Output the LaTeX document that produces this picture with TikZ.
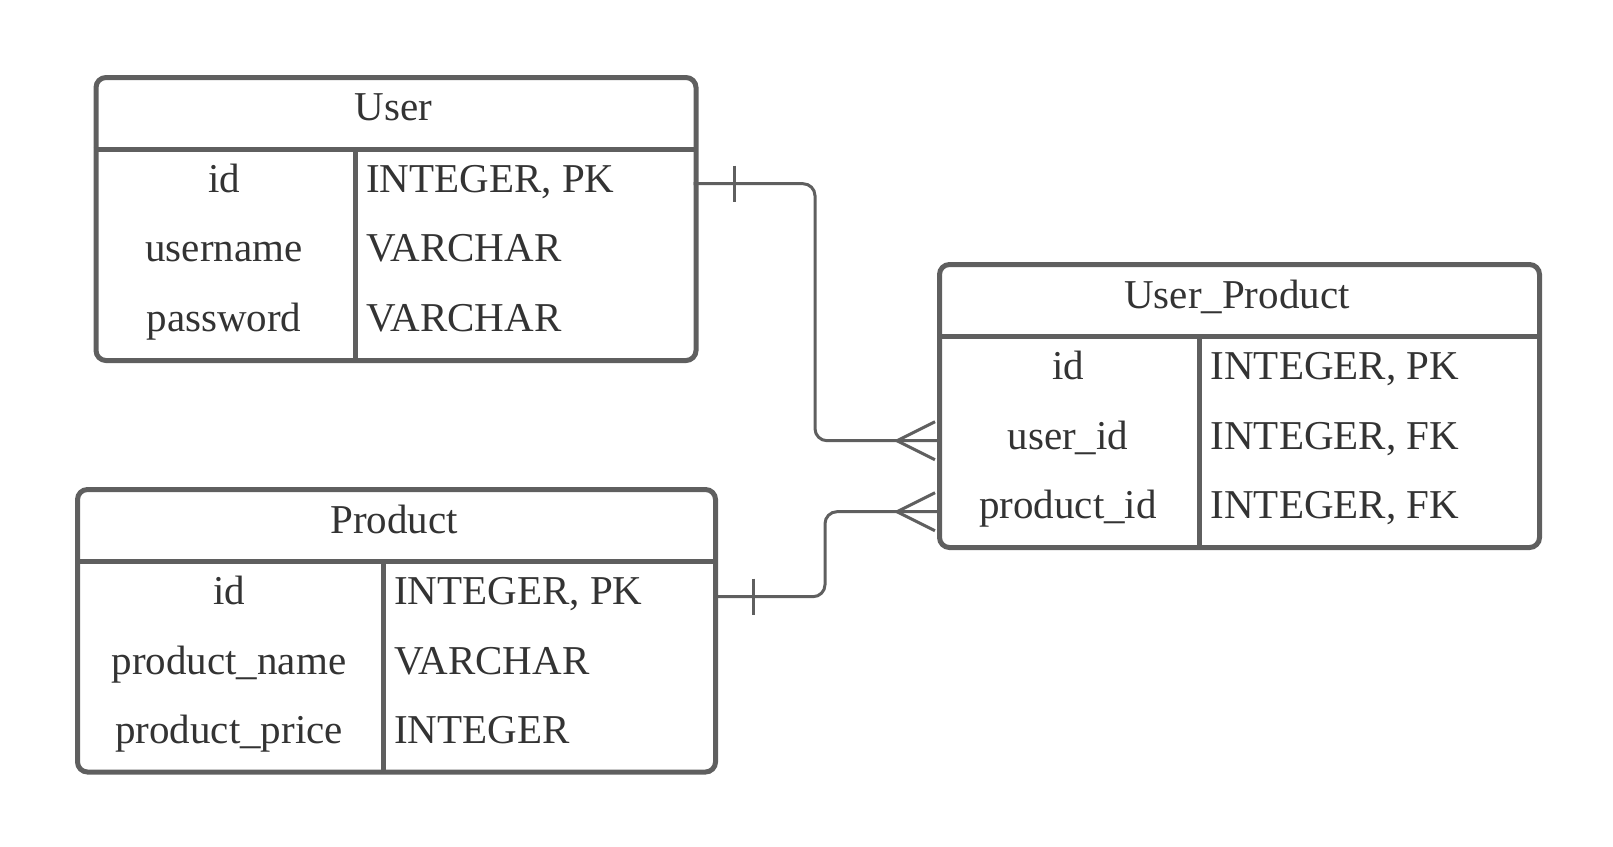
\documentclass[tikz,border=0pt]{standalone}
\usepackage{fontspec}
\setmainfont{Liberation Serif}
\definecolor{ln}{RGB}{95,95,95}
\definecolor{tx}{RGB}{51,51,51}
\tikzset{
  tbl/.style={draw=ln,line width=5pt,rounded corners=10pt,inner sep=0pt},
  sep/.style={draw=ln,line width=5pt},
  conn/.style={draw=ln,line width=3pt,rounded corners=12pt},
  ermark/.style={draw=ln,line width=3pt},
  txt/.style={text=tx,font=\fontsize{41}{49}\selectfont,inner sep=0pt,anchor=base},
  typ/.style={txt,anchor=base west}
}
\begin{document}
\begin{tikzpicture}[x=1pt,y=-1pt]
\useasboundingbox (0,0) rectangle (1613,846);
% ---- User
\node[tbl,minimum width=600pt,minimum height=283pt,anchor=north west] (user) at (93.5,75) {};
\draw[sep] (93.5,149) -- (693.5,149);
\draw[sep] (355,149) -- (355,358);
\node[txt] (userT) at (393.5,120.5) {User};
\node[txt] (u1n) at (224,192) {id};
\node[typ] (u1t) at (366,192) {INTEGER, PK};
\node[txt] (u2n) at (224,261.5) {username};
\node[typ] (u2t) at (366,261.5) {VARCHAR};
\node[txt] (u3n) at (224,331) {password};
\node[typ] (u3t) at (366,331) {VARCHAR};
% ---- Product
\node[tbl,minimum width=638pt,minimum height=282.5pt,anchor=north west] (prod) at (75,487) {};
\draw[sep] (75,561.7) -- (713,561.7);
\draw[sep] (383,561.7) -- (383,769.5);
\node[txt] (prodT) at (394,533) {Product};
\node[txt] (p1n) at (229,604.5) {id};
\node[typ] (p1t) at (394,604.5) {INTEGER, PK};
\node[txt] (p2n) at (229,674) {product\_name};
\node[typ] (p2t) at (394,674) {VARCHAR};
\node[txt] (p3n) at (229,743.5) {product\_price};
\node[typ] (p3t) at (394,743.5) {INTEGER};
% ---- User_Product
\node[tbl,minimum width=600pt,minimum height=283pt,anchor=north west] (up) at (937,262) {};
\draw[sep] (937,336.7) -- (1537,336.7);
\draw[sep] (1199.5,336.7) -- (1199.5,545);
\node[txt] (upT) at (1237,308) {User\_Product};
\node[txt] (q1n) at (1068,379.5) {id};
\node[typ] (q1t) at (1210.5,379.5) {INTEGER, PK};
\node[txt] (q2n) at (1068,449) {user\_id};
\node[typ] (q2t) at (1210.5,449) {INTEGER, FK};
\node[txt] (q3n) at (1068,518.5) {product\_id};
\node[typ] (q3t) at (1210.5,518.5) {INTEGER, FK};
% ---- connector anchors
\coordinate (uid) at (693.5,183.7);
\coordinate (pid) at (713,596.7);
\coordinate (quid) at (937,440.7);
\coordinate (qpid) at (937,511.7);
% User -> User_Product
\draw[conn] (uid) -- (815,183.7) -- (815,440.7) -- (quid);
\draw[ermark] (734,165.7) -- (734,201.7);
\draw[ermark] (935,421.7) -- (897,440.7) -- (935,459.7);
% Product -> User_Product
\draw[conn] (pid) -- (825,596.7) -- (825,511.7) -- (qpid);
\draw[ermark] (753,578.7) -- (753,614.7);
\draw[ermark] (935,492.7) -- (897,511.7) -- (935,530.7);
\end{tikzpicture}
\end{document}
